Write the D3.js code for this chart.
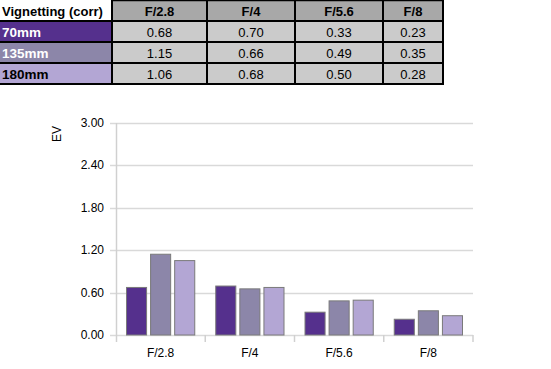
<!DOCTYPE html>
<html><head><meta charset="utf-8">
<script src="https://cdn.jsdelivr.net/npm/d3@7/dist/d3.min.js"></script>
<style>body{margin:0;background:#fff}svg{display:block;font-family:"Liberation Sans",Arial,sans-serif}</style>
</head><body><svg id="c" width="551" height="369"></svg>
<script>
const apertures = ["F/2.8", "F/4", "F/5.6", "F/8"];
const lenses = ["70mm", "135mm", "180mm"];
const v70 = [0.68, 0.70, 0.33, 0.23];
const v135 = [1.15, 0.66, 0.49, 0.35];
const v180 = [1.06, 0.68, 0.50, 0.28];
const yTicks = [0, 0.6, 1.2, 1.8, 2.4, 3.0];
const tableTitle = "Vignetting (corr)";
const yLabel = "EV";

const series = [v70, v135, v180];
const colors = ["#55308d", "#8c86a9", "#b3a6d4"];
const labelText = ["#fff", "#fff", "#000"];

const svg = d3.select("#c");

// ---- Table ----
const colX = [0, 112, 207, 295, 383, 443];
const rowY = [0, 21, 42, 63, 84];
const t = svg.append("g");
t.append("text").attr("x", 2).attr("y", 16).attr("font-weight", "bold").attr("font-size", 13).text(tableTitle);
apertures.forEach((a, i) => {
  t.append("rect").attr("x", colX[i+1]).attr("y", rowY[0]).attr("width", colX[i+2]-colX[i+1]).attr("height", rowY[1]-rowY[0]).attr("fill", "#a8a8a8");
  t.append("text").attr("x", (colX[i+1]+colX[i+2])/2).attr("y", 16).attr("text-anchor", "middle").attr("font-weight", "bold").attr("font-size", 13).text(a);
});
lenses.forEach((l, r) => {
  t.append("rect").attr("x", 0).attr("y", rowY[r+1]).attr("width", colX[1]).attr("height", 21).attr("fill", colors[r]);
  t.append("text").attr("x", 2).attr("y", rowY[r+1]+16).attr("font-weight", "bold").attr("font-size", 13.5).attr("fill", labelText[r]).text(l);
  series[r].forEach((v, i) => {
    t.append("rect").attr("x", colX[i+1]).attr("y", rowY[r+1]).attr("width", colX[i+2]-colX[i+1]).attr("height", 21).attr("fill", "#cbcbcb");
    t.append("text").attr("x", (colX[i+1]+colX[i+2])/2).attr("y", rowY[r+1]+16).attr("text-anchor", "middle").attr("font-size", 13).text(v.toFixed(2));
  });
});
for (let r = 1; r < rowY.length; r++) {
  t.append("line").attr("x1", 0).attr("x2", colX[5]+1).attr("y1", rowY[r]).attr("y2", rowY[r]).attr("stroke", "#000").attr("stroke-width", 2);
}
t.append("line").attr("x1", colX[1]).attr("x2", colX[5]+1).attr("y1", 0.5).attr("y2", 0.5).attr("stroke", "#000").attr("stroke-width", 1.5);
for (let c = 1; c < colX.length; c++) {
  t.append("line").attr("x1", colX[c]).attr("x2", colX[c]).attr("y1", 0).attr("y2", rowY[4]).attr("stroke", "#000").attr("stroke-width", 2);
}

// ---- Chart ----
const pLeft = 116, pRight = 473, pTop = 123, pBottom = 335;
const y = d3.scaleLinear().domain([0, 3]).range([pBottom, pTop]);
const x0 = d3.scaleBand().domain(apertures).range([pLeft, pRight]).padding(0);
const x1 = d3.scaleBand().domain(lenses).range([10, x0.bandwidth() - 10]).paddingInner(0.125).paddingOuter(0);

const g = svg.append("g");
g.selectAll(".grid").data(yTicks).join("line")
  .attr("x1", pLeft - 6).attr("x2", pRight)
  .attr("y1", d => Math.round(y(d)) + 0.5).attr("y2", d => Math.round(y(d)) + 0.5)
  .attr("stroke", "#d9d9d9").attr("stroke-width", 1.5);
g.selectAll(".yl").data(yTicks).join("text")
  .attr("x", 104).attr("y", d => y(d) + 4)
  .attr("text-anchor", "end").attr("font-size", 12).text(d => d.toFixed(2));
g.append("line").attr("x1", pLeft + 0.5).attr("x2", pLeft + 0.5).attr("y1", pTop).attr("y2", pBottom + 7)
  .attr("stroke", "#d0d0d0").attr("stroke-width", 1.5);
g.selectAll(".xt").data(apertures).join("line")
  .attr("x1", d => x0(d) + x0.bandwidth()).attr("x2", d => x0(d) + x0.bandwidth())
  .attr("y1", pBottom).attr("y2", pBottom + 7).attr("stroke", "#d0d0d0").attr("stroke-width", 1.5);
g.selectAll(".xl").data(apertures).join("text")
  .attr("x", d => x0(d) + x0.bandwidth() / 2).attr("y", 357)
  .attr("text-anchor", "middle").attr("font-size", 12).text(d => d);
g.append("text").attr("transform", "translate(61,134) rotate(-90)")
  .attr("text-anchor", "middle").attr("font-size", 12).text(yLabel);
apertures.forEach((a, i) => {
  lenses.forEach((l, s) => {
    const v = series[s][i];
    g.append("rect")
      .attr("x", x0(a) + x1(l) + 0.5).attr("y", y(v) + 0.5)
      .attr("width", x1.bandwidth() - 1).attr("height", pBottom - y(v) - 0.5)
      .attr("fill", colors[s]).attr("stroke", "#7a7a7a").attr("stroke-width", 1);
  });
});
</script></body></html>
